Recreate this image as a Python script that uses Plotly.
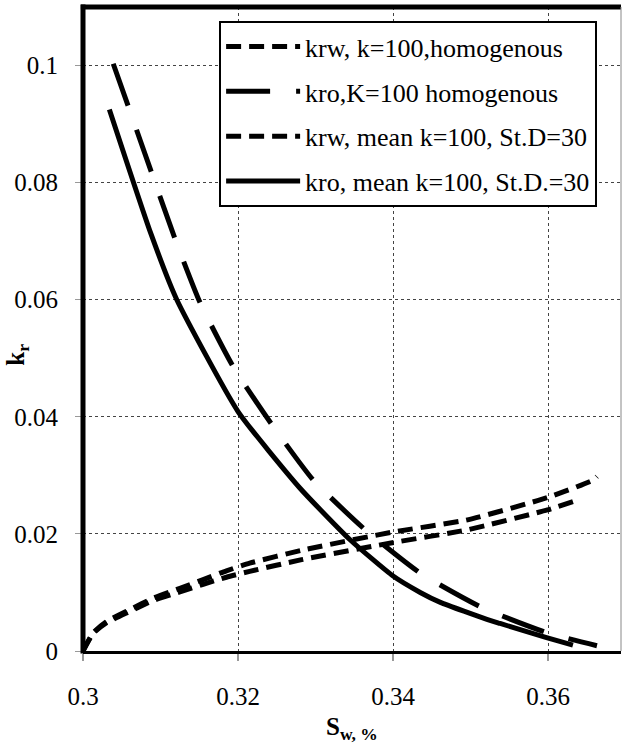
import plotly.graph_objects as go

# Water saturation (x) and relative permeability (y) values
krw_hom_sw = [0.3000, 0.3013, 0.3030, 0.3061, 0.3090, 0.3125, 0.3155, 0.3185, 0.3215, 0.3282, 0.3399, 0.3496, 0.3599, 0.3658, 0.3663]
krw_hom = [0.0, 0.0031, 0.0050, 0.0071, 0.0090, 0.0107, 0.0122, 0.0137, 0.0150, 0.0172, 0.0203, 0.0224, 0.0262, 0.0292, 0.0298]

kro_hom_sw = [0.3039, 0.3059, 0.3089, 0.3119, 0.3151, 0.3194, 0.3244, 0.3297, 0.3364, 0.3435, 0.3515, 0.3599, 0.3663]
kro_hom = [0.1003, 0.0928, 0.0815, 0.0703, 0.0595, 0.0485, 0.0386, 0.0292, 0.0207, 0.0133, 0.0074, 0.0031, 0.0009]

krw_sd_sw = [0.3000, 0.3013, 0.3030, 0.3061, 0.3090, 0.3125, 0.3155, 0.3185, 0.3215, 0.3282, 0.3399, 0.3496, 0.3599, 0.3632]
krw_sd = [0.0, 0.0030, 0.0048, 0.0068, 0.0086, 0.0101, 0.0114, 0.0126, 0.0136, 0.0156, 0.0185, 0.0207, 0.0241, 0.0255]

kro_sd_sw = [0.3034, 0.3087, 0.3121, 0.3200, 0.3280, 0.33445, 0.3400, 0.3435, 0.3461, 0.3521, 0.3538, 0.3598, 0.3632]
kro_sd = [0.0925, 0.0715, 0.0600, 0.0409, 0.0278, 0.0190, 0.0128, 0.0100, 0.0083, 0.0054, 0.0047, 0.0023, 0.0010]

names = [
    "krw, k=100,homogenous",
    "kro,K=100 homogenous",
    "krw, mean k=100, St.D=30",
    "kro, mean k=100, St.D.=30",
]

x_ticks = [0.3, 0.32, 0.34, 0.36]
x_tick_labels = ["0.3", "0.32", "0.34", "0.36"]
y_ticks = [0, 0.02, 0.04, 0.06, 0.08, 0.1]
y_tick_labels = ["0", "0.02", "0.04", "0.06", "0.08", "0.1"]
x_title = "<b>S<sub>w, %</sub></b>"
y_title = "<b>k<sub>r</sub></b>"

FONT = "Liberation Serif"

fig = go.Figure()
series = [
    (krw_hom_sw, krw_hom, "15px,8px"),
    (kro_hom_sw, kro_hom, "44px,26px"),
    (krw_sd_sw, krw_sd, "15px,8px"),
    (kro_sd_sw, kro_sd, "solid"),
]
for i, (xs, ys, dash) in enumerate(series):
    fig.add_trace(go.Scatter(
        x=xs, y=ys, mode="lines", name=names[i], legendgroup=f"g{i}",
        line=dict(color="black", width=5, dash=dash, shape="spline", smoothing=0.5),
    ))

fig.update_layout(
    width=622, height=747,
    margin=dict(l=83, r=1, t=7, b=96),
    paper_bgcolor="white", plot_bgcolor="white",
    font=dict(family=FONT, size=25, color="black"),
    showlegend=True,
    legend=dict(
        x=0.253, y=0.978, xanchor="left", yanchor="top",
        bgcolor="white", bordercolor="black", borderwidth=2,
        font=dict(family=FONT, size=26, color="black"),
        tracegroupgap=8, traceorder="grouped", itemwidth=74,
    ),
    xaxis=dict(
        range=[0.3, 0.3694], tickvals=x_ticks, ticktext=x_tick_labels,
        showgrid=True, gridcolor="#444", griddash="dot", gridwidth=1,
        showline=True, linecolor="black", linewidth=3,
        zeroline=False, automargin=False,
        ticks="outside", ticklen=7, tickcolor="#999", tickwidth=2,
        ticklabelstandoff=14,
        tickfont=dict(family=FONT, size=25),
    ),
    yaxis=dict(
        range=[0, 0.11], tickvals=y_ticks, ticktext=y_tick_labels,
        showgrid=True, gridcolor="#444", griddash="dot", gridwidth=1,
        showline=False,
        zeroline=True, zerolinecolor="#999", zerolinewidth=2,
        automargin=False,
        ticks="outside", ticklen=7, tickcolor="#999", tickwidth=1,
        ticklabelstandoff=12,
        tickfont=dict(family=FONT, size=25),
    ),
    annotations=[
        dict(text=x_title, xref="paper", yref="paper", x=0.5, y=-0.093,
             xanchor="center", yanchor="top", showarrow=False,
             font=dict(family=FONT, size=25, color="black")),
        dict(text=y_title, xref="paper", yref="paper", x=-0.121, y=0.46,
             xanchor="center", yanchor="middle", textangle=-90, showarrow=False,
             font=dict(family=FONT, size=25, color="black")),
    ],
    shapes=[
        dict(type="line", xref="paper", yref="paper", x0=0, x1=0, y0=-0.004, y1=1.004,
             line=dict(color="black", width=5)),
        dict(type="line", xref="paper", yref="paper", x0=-0.004, x1=1, y0=1, y1=1,
             line=dict(color="black", width=5)),
        dict(type="line", xref="paper", yref="paper", x0=1, x1=1, y0=0, y1=1,
             line=dict(color="#888", width=1)),
    ],
)

fig.write_html("out.html")
